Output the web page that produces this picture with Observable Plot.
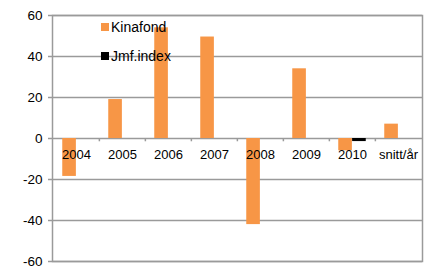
<!DOCTYPE html>
<html>
<head>
<meta charset="utf-8">
<script src="https://cdn.jsdelivr.net/npm/d3@7"></script>
<script src="https://cdn.jsdelivr.net/npm/@observablehq/plot@0.6"></script>
<style>
  html, body { margin: 0; padding: 0; background: #fff; }
  #wrap { position: relative; width: 427px; height: 268px; font-family: "Liberation Sans", Arial, sans-serif; }
  .leg { position: absolute; display: flex; align-items: center; font-size: 14px; color: #000; white-space: nowrap; }
  .sw { width: 8px; height: 8px; margin-right: 2px; }
</style>
</head>
<body>
<div id="wrap"></div>
<script>
const categories = ["2004", "2005", "2006", "2007", "2008", "2009", "2010", "snitt/år"];
const kinafond = [-18.5, 19, 54, 49.5, -42, 34, -6, 7];
const jmfIndex = [null, null, null, null, null, null, -1.5, null];
const seriesNames = ["Kinafond", "Jmf.index"];
const seriesColors = ["#F79646", "#000000"];
const yTicks = [-60, -40, -20, 0, 20, 40, 60];

const W = 427, H = 268, ML = 52, MR = 5, MT = 15, MB = 7;
const bw = (W - ML - MR) / categories.length;
const barW = bw * 0.3;
const side = (bw - 2 * barW) / 2;

const rows = categories.map((c, i) => ({cat: c, k: kinafond[i], j: jmfIndex[i]}));

const chart = Plot.plot({
  width: W, height: H,
  marginLeft: ML, marginRight: MR, marginTop: MT, marginBottom: MB,
  style: {fontFamily: "'Liberation Sans', Arial, sans-serif", fontSize: "13px", color: "#000", background: "#fff"},
  x: {type: "band", domain: categories, padding: 0, axis: null},
  y: {domain: [-60, 60], ticks: yTicks, label: null},
  marks: [
    Plot.gridY(yTicks, {stroke: "#9a9a9a", strokeOpacity: 1, strokeWidth: 1.5}),
    Plot.frame({stroke: "#9a9a9a", strokeWidth: 1.5}),
    Plot.axisY(yTicks, {tickSize: 4, tickPadding: 6, stroke: "#9a9a9a", strokeWidth: 1.5, fontSize: 13.5, fill: "#000", label: null, tickFormat: d => String(d)}),
    Plot.ruleX(categories.slice(1), {x: d => d, y1: 0, y2: -1.6, dx: -bw / 2, stroke: "#9a9a9a", strokeWidth: 1.5}),
    Plot.barY(rows.filter(d => d.k != null), {x: "cat", y: "k", fill: seriesColors[0], insetLeft: side, insetRight: side + barW}),
    Plot.barY(rows.filter(d => d.j != null), {x: "cat", y: "j", fill: seriesColors[1], insetLeft: side + barW, insetRight: side}),
    Plot.text(categories, {x: d => d, y: 0, dy: 16, text: d => d, fill: "#000", fontSize: 13})
  ]
});

const wrap = document.getElementById("wrap");
wrap.appendChild(chart);

const legTops = [19, 48];
seriesNames.forEach((name, i) => {
  const el = document.createElement("div");
  el.className = "leg";
  el.style.left = "101px";
  el.style.top = legTops[i] + "px";
  const sw = document.createElement("span");
  sw.className = "sw";
  sw.style.background = seriesColors[i];
  const t = document.createElement("span");
  t.textContent = name;
  el.appendChild(sw);
  el.appendChild(t);
  wrap.appendChild(el);
});
</script>
</body>
</html>
